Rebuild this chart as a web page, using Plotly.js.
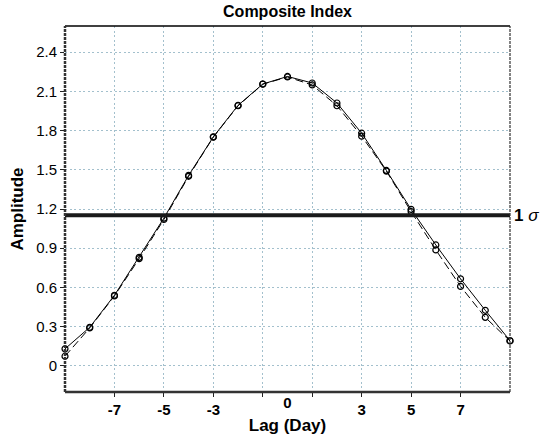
<!DOCTYPE html>
<html>
<head>
<meta charset="utf-8">
<script src="https://cdn.plot.ly/plotly-3.0.1.min.js"></script>
<style>html,body{margin:0;padding:0;background:#fff;}#chart{width:544px;height:435px;}</style>
</head>
<body>
<div id="chart"></div>
<script>
const lags = [-9,-8,-7,-6,-5,-4,-3,-2,-1,0,1,2,3,4,5,6,7,8,9];
const seriesSolid = [0.13,0.295,0.54,0.83,1.13,1.457,1.752,1.993,2.156,2.214,2.164,2.011,1.78,1.495,1.197,0.925,0.666,0.425,0.193];
const seriesDashed = [0.074,0.29,0.535,0.82,1.12,1.45,1.75,1.99,2.155,2.21,2.149,1.99,1.757,1.49,1.18,0.887,0.608,0.371,0.19];
const sigmaLevel = 1.152;
const gridTicks = [-7,-5,-3,-1,1,3,5,7];
const gridTickText = ['-7','-5','-3','','','3','5','7'];
const extraTicks = [0];
const extraTickText = ['0'];
const yTicks = [0,0.3,0.6,0.9,1.2,1.5,1.8,2.1,2.4];
const yTickText = ['0','0.3','0.6','0.9','1.2','1.5','1.8','2.1','2.4'];

const font = 'Liberation Sans, Arial, sans-serif';
const traces = [
  {x: lags, y: seriesDashed, mode: 'lines+markers', cliponaxis: false,
   line: {color: '#000', width: 1, dash: '8px,4px'},
   marker: {symbol: 'circle-open', size: 6, color: '#000', line: {width: 1.2}}},
  {x: lags, y: seriesSolid, mode: 'lines+markers', cliponaxis: false,
   line: {color: '#000', width: 1},
   marker: {symbol: 'circle-open', size: 6, color: '#000', line: {width: 1.2}}},
  {x: [lags[0], lags[lags.length-1]], y: [sigmaLevel, sigmaLevel], mode: 'lines',
   line: {color: '#1a1a1a', width: 4}, cliponaxis: false},
  {x: extraTicks, y: [null], xaxis: 'x2', mode: 'markers', showlegend: false}
];
const layout = {
  width: 544, height: 435,
  margin: {l: 65, r: 34, t: 26, b: 43},
  paper_bgcolor: '#fff', plot_bgcolor: '#fff',
  showlegend: false,
  font: {family: font, color: '#000', size: 15},
  title: {text: '<b>Composite Index</b>', x: 0.5, xref: 'paper', y: 0.987, yanchor: 'top',
          font: {family: font, size: 16, color: '#000'}},
  xaxis: {range: [-9, 9], tickmode: 'array', tickvals: gridTicks, ticktext: gridTickText,
          showgrid: true, gridcolor: '#a3c0cd', griddash: '2px,2.5px', gridwidth: 1,
          zeroline: false, showline: false, ticks: 'outside', ticklen: 4, tickcolor: '#222',
          tickfont: {family: font, size: 15, color: '#000', weight: 'bold'},
          title: {text: '<b>Lag (Day)</b>', font: {family: font, size: 17, color: '#000'}, standoff: 2}},
  xaxis2: {range: [-9, 9], overlaying: 'x', side: 'bottom', anchor: 'y', tickmode: 'array',
           tickvals: extraTicks, ticktext: extraTickText, showgrid: false, zeroline: false,
           showline: false, ticks: '', ticklen: 4,
           tickfont: {family: font, size: 15, color: '#000', weight: 'bold'}},
  yaxis: {range: [-0.2, 2.6], tickmode: 'array', tickvals: yTicks, ticktext: yTickText,
          showgrid: true, gridcolor: '#a3c0cd', griddash: '2px,2.5px', gridwidth: 1,
          zeroline: false, showline: false, ticks: 'outside', ticklen: 4, tickcolor: '#222',
          tickfont: {family: font, size: 15, color: '#000'},
          title: {text: '<b>Amplitude</b>', font: {family: font, size: 17, color: '#000'}, standoff: 8}},
  shapes: [
    {type: 'line', xref: 'paper', yref: 'paper', x0: 0, x1: 1, y0: 1, y1: 1, line: {color: '#000', width: 1.5}},
    {type: 'line', xref: 'paper', yref: 'paper', x0: 0, x1: 1, y0: 0, y1: 0, line: {color: '#333', width: 2.5}},
    {type: 'line', xref: 'paper', yref: 'paper', x0: 0, x1: 0, y0: 0, y1: 1, line: {color: '#333', width: 2.5, dash: '3px,1px'}},
    {type: 'line', xref: 'paper', yref: 'paper', x0: 1, x1: 1, y0: 0, y1: 1, line: {color: '#333', width: 1.2, dash: '3px,1px'}}
  ],
  annotations: [
    {xref: 'paper', yref: 'y', x: 1, y: sigmaLevel, xanchor: 'left', yanchor: 'middle', xshift: 2, showarrow: false,
     text: '<b>1</b> <i>σ</i>', font: {family: font, size: 17, color: '#000'}}
  ]
};
Plotly.newPlot('chart', traces, layout, {displayModeBar: false, staticPlot: true});
</script>
</body>
</html>
